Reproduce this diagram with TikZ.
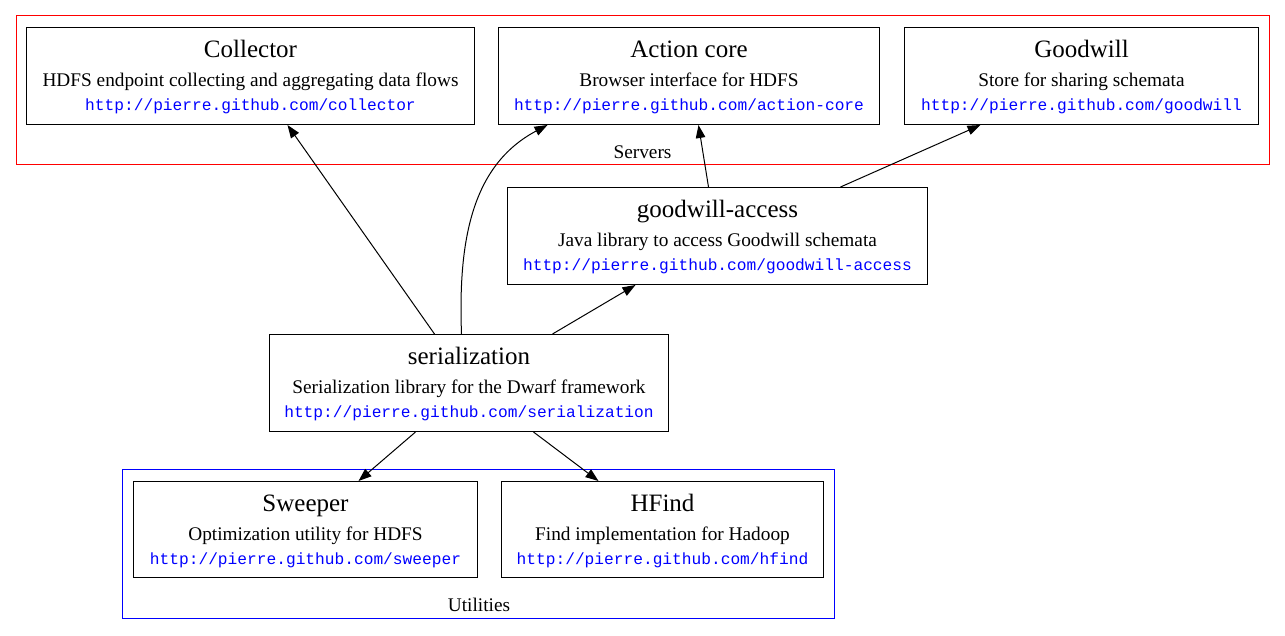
\documentclass[tikz,border=0pt]{standalone}
\usepackage{fontspec}
\setmainfont{Liberation Serif}
\setmonofont{Liberation Mono}
\usetikzlibrary{
  positioning,
  arrows.meta
}
\newcommand{\projtitle}[1]{{\fontsize{25}{24.5}\selectfont #1}}
\newcommand{\projurl}[1]{{\color{blue}\ttfamily\fontsize{16.2}{24.5}\selectfont #1}}

\begin{document}
\begin{tikzpicture}[x=1pt,y=-1pt,>={Triangle[length=13pt,width=9.5pt]},line width=1pt,
    project/.style={draw,inner sep=0pt,anchor=north west,align=center,
      text height=83pt,text depth=14pt,font={\fontsize{19.3}{24.5}\selectfont}},
    cluster/.style={line width=0.9pt},
    clusterlabel/.style={anchor=base,inner sep=0pt,font={\fontsize{19.3}{24.5}\selectfont}}]

    \useasboundingbox (0,0) rectangle (1285,635);

    % clusters
    \draw[cluster,red] (16,15) rectangle (1269,164);
    \node[clusterlabel] (servers) at (642.5,158) {Servers};
    \draw[cluster,blue] (122,469) rectangle (834,618);
    \node[clusterlabel] (utilities) at (479,611) {Utilities};

    % servers
    \node[project,minimum width=448pt] (col) at (26,27)
        {\projtitle{Collector}\\[4pt] HDFS endpoint collecting and aggregating data flows\\ \projurl{http://pierre.github.com/collector}};
    \node[project,minimum width=381pt] (act) at (498,27)
        {\projtitle{Action core}\\[4pt] Browser interface for HDFS\\ \projurl{http://pierre.github.com/action-core}};
    \node[project,minimum width=354pt] (gw) at (904,27)
        {\projtitle{Goodwill}\\[4pt] Store for sharing schemata\\ \projurl{http://pierre.github.com/goodwill}};

    % libraries
    \node[project,minimum width=420pt] (gwa) at (507,187)
        {\projtitle{goodwill-access}\\[4pt] Java library to access Goodwill schemata\\ \projurl{http://pierre.github.com/goodwill-access}};
    \node[project,minimum width=399pt] (ser) at (269,334)
        {\projtitle{serialization}\\[4pt] Serialization library for the Dwarf framework\\ \projurl{http://pierre.github.com/serialization}};

    % utilities
    \node[project,minimum width=344pt,text depth=13pt] (swp) at (133,481)
        {\projtitle{Sweeper}\\[4pt] Optimization utility for HDFS\\ \projurl{http://pierre.github.com/sweeper}};
    \node[project,minimum width=322pt,text depth=13pt] (hf) at (501,481)
        {\projtitle{HFind}\\[4pt] Find implementation for Hadoop\\ \projurl{http://pierre.github.com/hfind}};

    % dependencies
    \draw[->] ([xshift=-34.5pt]ser.north) -- ([xshift=37pt]col.south);
    \draw[->] ([xshift=-7.5pt]ser.north) .. controls (458,240) and (472,165) .. ([xshift=-141.5pt]act.south);
    \draw[->] ([xshift=83.5pt]ser.north) -- ([xshift=-82pt]gwa.south);
    \draw[->] ([xshift=-9pt]gwa.north) -- ([xshift=9.5pt]act.south);
    \draw[->] ([xshift=123pt]gwa.north) -- ([xshift=-101pt]gw.south);
    \draw[->] ([xshift=-53.5pt]ser.south) -- ([xshift=53pt]swp.north);
    \draw[->] ([xshift=64.5pt]ser.south) -- ([xshift=-64pt]hf.north);
\end{tikzpicture}
\end{document}
